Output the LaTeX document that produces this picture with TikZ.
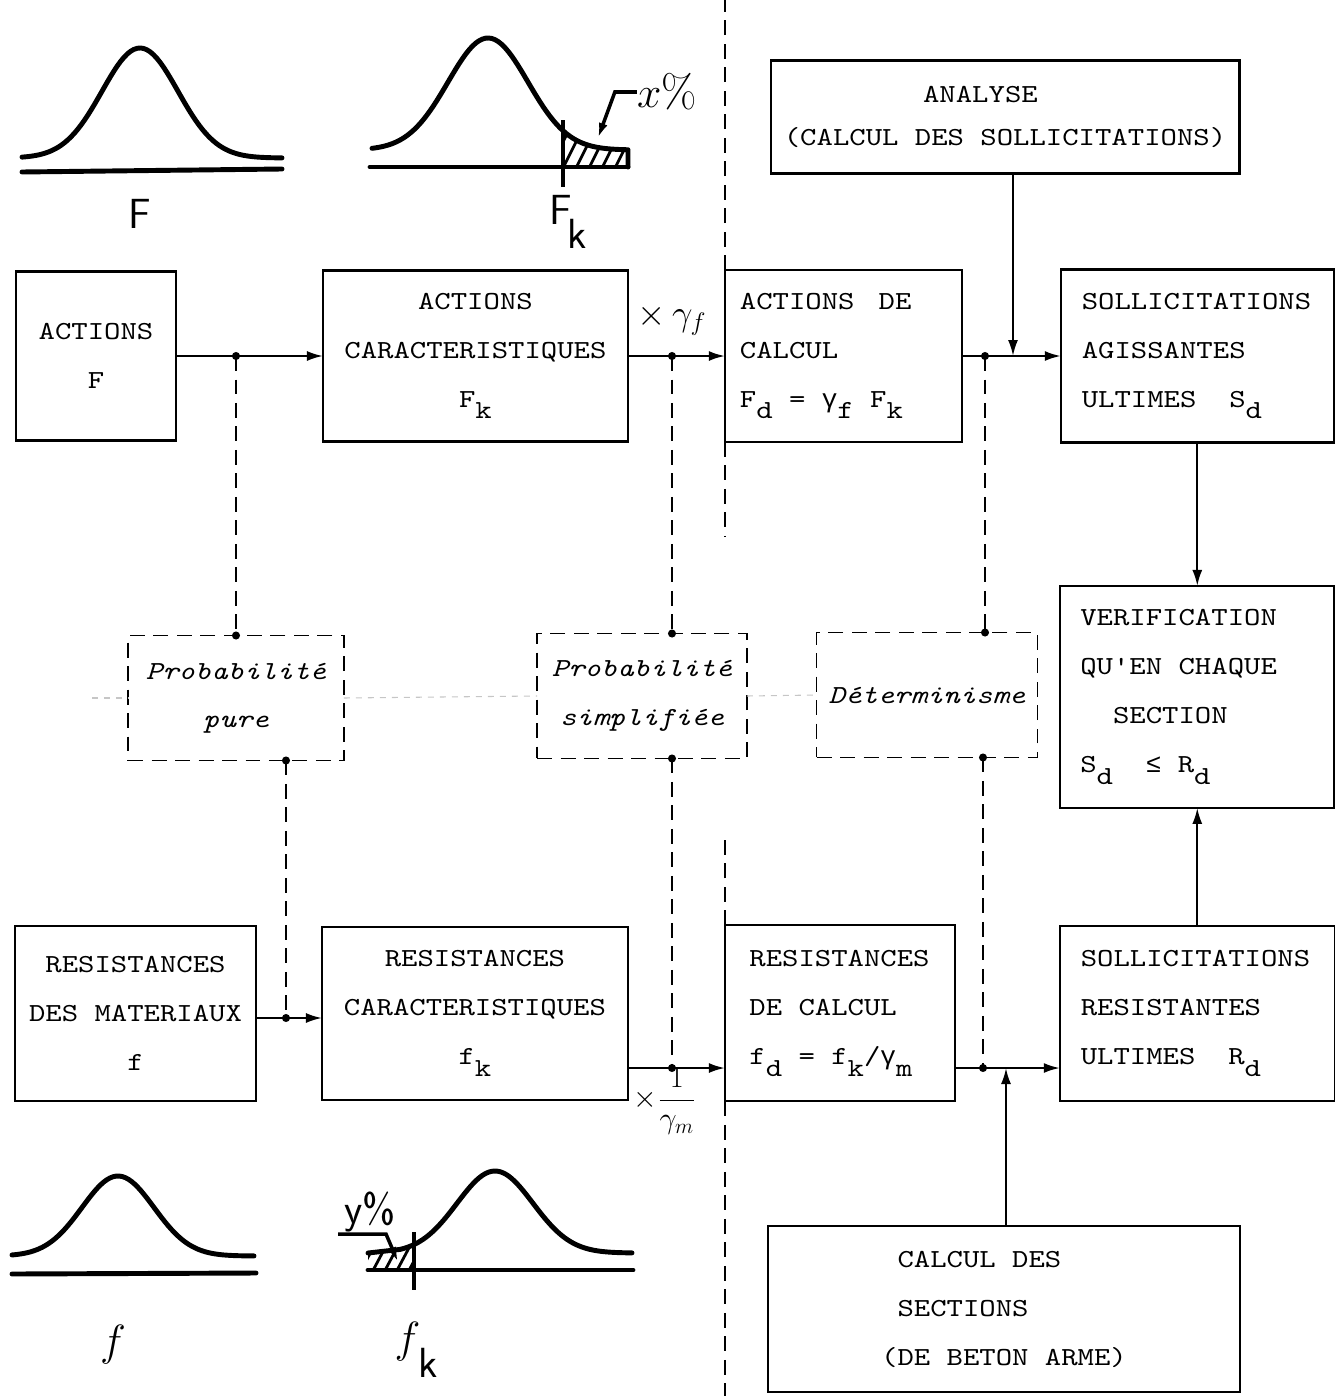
\documentclass[tikz,border=0pt]{standalone}
\usepackage{fontspec}
\setmonofont[FakeStretch=1.2, ItalicFont=lmmono10-italic.otf]{lmmono10-regular.otf}
\newfontfamily\symmono{Liberation Mono}
\usepackage{tikz}
\usetikzlibrary{positioning, arrows.meta}

\newcommand{\monospaces}{\spaceskip=0.63em\relax\xspaceskip=0.63em\relax}
\newcommand{\boxfont}{\fontsize{14.8}{27.9}\selectfont\ttfamily\monospaces}
\newcommand{\probfont}{\fontsize{14.8}{27.5}\selectfont\ttfamily\itshape\monospaces}
\newcommand{\anfont}{\fontsize{14.8}{24.4}\selectfont\ttfamily\monospaces}
\newcommand{\handfont}{\fontsize{24}{28}\selectfont\sffamily}
\newcommand{\lowsub}[1]{\raisebox{-0.45em}{#1}}
\newcommand{\gam}{{\symmono γ}}
\newcommand{\lesseq}{{\symmono ≤}}

\begin{document}
\begin{tikzpicture}[x=0.02cm, y=-0.02cm, node distance=1.94cm,
    blk/.style={draw, line width=1.2pt, fill=white, inner sep=0pt, outer sep=0pt, font=\boxfont, align=center},
    lblk/.style={blk, align=flush left, execute at begin node=\monospaces},
    pbox/.style={draw, line width=1.1pt, dash pattern=on 0.3cm off 0.17cm, fill=white, inner sep=0pt, outer sep=0pt, font=\probfont, align=center, minimum height=2.5cm},
    link/.style={line width=1.2pt, -{Latex[length=0.32cm, width=0.2cm]}},
    dlink/.style={line width=1.1pt, dash pattern=on 0.3cm off 0.17cm},
    faint/.style={gray!45, line width=0.6pt, dash pattern=on 0.12cm off 0.12cm},
    bell/.style={line width=2.8pt, line cap=round, line join=round},
    hatch/.style={line width=1.6pt},
    lead/.style={line width=2pt, -{Latex[length=0.3cm, width=0.18cm]}},
    hand/.style={font=\handfont, inner sep=0pt}]

    \useasboundingbox (0,0) rectangle (1335,1396);
    \coordinate (topedge) at (0,0);
    \coordinate (botedge) at (0,1396);

    \node[blk, minimum width=3.2cm, minimum height=3.38cm] (a1) at (96,356) {ACTIONS\\F};
    \node[blk, minimum width=6.1cm, minimum height=3.42cm, right=2.94cm of a1] (a2) {ACTIONS\\CARACTERISTIQUES\\F\lowsub{k}};
    \node[lblk, text width=4.14cm, inner xsep=0.3cm, minimum height=3.44cm, right=of a2] (a3) {ACTIONS\ \kern.3em DE\\CALCUL\\F\lowsub{d}~=~\gam\lowsub{f}~F\lowsub{k}};
    \node[lblk, text width=4.62cm, inner xsep=0.42cm, minimum height=3.46cm, right=1.98cm of a3] (a4) {SOLLICITATIONS\\AGISSANTES\\ULTIMES~~S\lowsub{d}};
    \node[blk, font=\anfont, minimum width=9.38cm, minimum height=2.26cm] (an) at (1005,117) {ANALYSE\hphantom{xxx}\\(CALCUL DES SOLLICITATIONS)};

    \node[lblk, text width=4.68cm, inner xsep=0.4cm, minimum height=4.44cm, below=2.87cm of a4] (v) {VERIFICATION\\QU'EN CHAQUE\\\hphantom{QU}SECTION\\S\lowsub{d}~~\lesseq~R\lowsub{d}};

    \node[lblk, text width=4.66cm, inner xsep=0.42cm, minimum height=3.5cm, below=2.36cm of v] (b4) {SOLLICITATIONS\\RESISTANTES\\ULTIMES~~R\lowsub{d}};
    \node[lblk, text width=3.62cm, inner xsep=0.49cm, minimum height=3.52cm, left=2.1cm of b4] (b3) {RESISTANCES\\DE CALCUL\\f\lowsub{d}~=~f\lowsub{k}/\gam\lowsub{m}};
    \node[blk, minimum width=6.12cm, minimum height=3.46cm, left=of b3] (b2) {RESISTANCES\\CARACTERISTIQUES\\f\lowsub{k}};
    \node[blk, minimum width=4.82cm, minimum height=3.5cm, left=1.32cm of b2] (b1) {RESISTANCES\\DES MATERIAUX\\f};
    \node[blk, align=left, minimum width=9.44cm, minimum height=3.32cm] (cs) at (1004,1309) {\hphantom{(}CALCUL DES\\\hphantom{(}SECTIONS\\(DE BETON ARME)};

    \node[pbox, minimum width=4.32cm] (pp) at (236,698) {Probabilité\\pure};
    \node[pbox, minimum width=4.2cm] (ps) at (642,696) {Probabilité\\simplifiée};
    \node[pbox, minimum width=4.42cm] (de) at (927,695) {Déterminisme};

    \coordinate (j1) at (236,356);
    \coordinate (j2) at (672,356);
    \coordinate (j3) at (985,356);
    \coordinate (k1) at (1013,356);
    \coordinate (j4) at (286,1018);
    \coordinate (j5) at (672,1068);
    \coordinate (j6) at (983,1068);
    \coordinate (k2) at (1006,1068);

    \draw[link] (a1) -- (a2);
    \draw[link] (a2) -- (a3);
    \draw[link] (a3) -- (a4);
    \draw[link] (an.south -| k1) -- (k1);
    \draw[link] (a4) -- (v);
    \draw[link] (b4) -- (v);
    \draw[link] (b1.east |- j4) -- (b2.west |- j4);
    \draw[link] (b2.east |- j5) -- (b3.west |- j5);
    \draw[link] (b3.east |- j5) -- (b4.west |- j5);
    \draw[link] (cs.north -| k2) -- (k2);

    \draw[dlink] (j1) -- (pp.north -| j1);
    \draw[dlink] (j2) -- (ps.north -| j2);
    \draw[dlink] (j3) -- (de.north -| j3);
    \draw[dlink] (pp.south -| j4) -- (j4);
    \draw[dlink] (ps.south -| j5) -- (j5);
    \draw[dlink] (de.south -| j6) -- (j6);
    \foreach \p in {j1, j2, j3, j4, j5, j6, pp.north -| j1, ps.north -| j2, de.north -| j3, pp.south -| j4, ps.south -| j5, de.south -| j6}
        \fill (\p) circle (2.3pt);

    \draw[dlink] (a3.north west) -- (a3.north west |- topedge);
    \draw[dlink] (a3.south west) -- ++(0,95);
    \draw[dlink] (b3.north west) -- ++(0,-86);
    \draw[dlink] (b3.south west) -- (b3.south west |- botedge);

    \coordinate (fl) at (92,698);
    \draw[faint] (fl) -- (pp.west);
    \draw[faint] (pp.east) -- (ps.west);
    \draw[faint] (ps.east) -- (de.west);

    \node[font=\fontsize{21}{24}\selectfont, inner sep=0pt] (gf) at (672,320) {$\times\,\gamma_f$};
    \node[font=\fontsize{17}{20}\selectfont, inner sep=0pt] (gm) at (665,1101) {$\times\displaystyle\frac{1}{\gamma_m}$};

    \draw[bell] plot[domain=22:282, samples=80] (\x, {158-110*exp(-((\x-140)/38)*((\x-140)/38)/2)});
    \draw[bell] (22,172) -- (282,169);
    \node[hand] (lF) at (140,214) {F};

    \begin{scope}
        \clip plot[domain=563:628, samples=30] (\x, {150-112*exp(-((\x-488)/40)*((\x-488)/40)/2)}) -- (628,167) -- (563,167) -- cycle;
        \foreach \h in {0,...,7}
            \draw[hatch] (548+\h*13,172) -- (568+\h*13,132);
    \end{scope}
    \draw[bell] plot[domain=372:628, samples=80] (\x, {150-112*exp(-((\x-488)/40)*((\x-488)/40)/2)}) -- (628,167);
    \draw[bell] (370,167) -- (628,167);
    \draw[line width=2pt] (563,120) -- (563,187);
    \node[hand] (lFk) at (568,222) {F\kern-.1em\raisebox{-.55em}{k}};
    \node[font=\fontsize{26}{30}\selectfont, inner sep=0pt] (lx) at (667,92) {$x\%$};
    \coordinate (xtip) at (598,138);
    \draw[lead] (lx.west) -- ++(-22,0) -- (xtip);

    \draw[bell] plot[domain=12:254, samples=80] (\x, {1256-80*exp(-((\x-118)/36)*((\x-118)/36)/2)});
    \draw[bell] (12,1274) -- (256,1273);
    \node[font=\fontsize{28}{32}\selectfont, inner sep=0pt] (lf) at (113,1345) {$f$};

    \begin{scope}
        \clip (368,1253) -- (400,1253) -- plot[domain=400:414, samples=10] (\x, {1253-82*exp(-((\x-495)/38)*((\x-495)/38)/2)}) -- (414,1270) -- (368,1270) -- cycle;
        \foreach \h in {0,...,5}
            \draw[hatch] (358+\h*12,1276) -- (374+\h*12,1246);
    \end{scope}
    \draw[bell] (368,1253) -- plot[domain=400:632, samples=80] (\x, {1253-82*exp(-((\x-495)/38)*((\x-495)/38)/2)});
    \draw[bell] (368,1270) -- (633,1270);
    \draw[line width=2pt] (414,1232) -- (414,1290);
    \node[hand] (ly) at (370,1212) {y\%};
    \coordinate (ystart) at (338,1234);
    \coordinate (ytip) at (398,1262);
    \draw[lead] (ystart) -- ++(48,0) -- (ytip);
    \node[font=\fontsize{28}{32}\selectfont, inner sep=0pt] (lfk) at (416,1350) {$f$\kern-.05em\raisebox{-.5em}{\handfont k}};

\end{tikzpicture}
\end{document}
